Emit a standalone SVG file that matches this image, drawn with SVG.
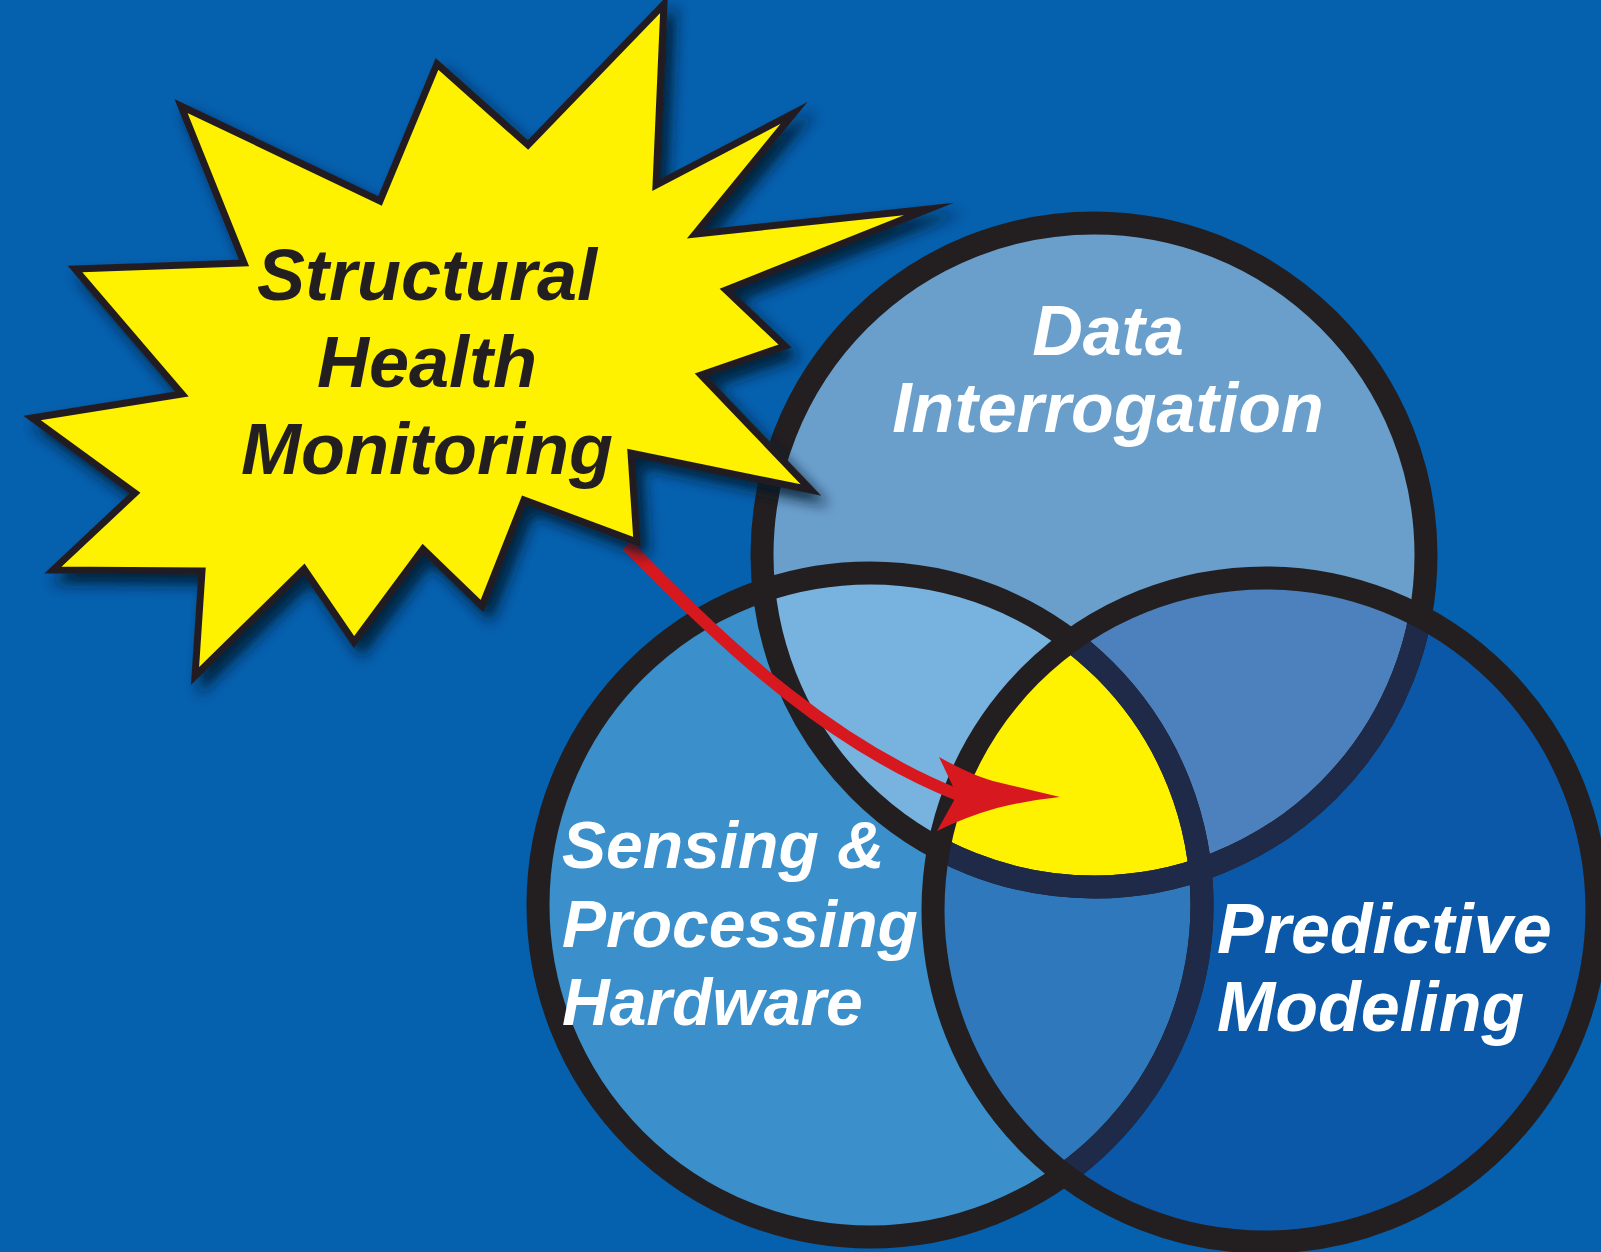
<svg xmlns="http://www.w3.org/2000/svg" width="1601" height="1252" viewBox="0 0 1601 1252">
<style>
.lbl{font-family:"Liberation Sans",Arial,sans-serif;font-weight:bold;font-style:italic;}
.white{fill:#ffffff;}
.dark{fill:#231f20;}
.ring{fill:none;stroke:#231f20;stroke-width:23;}
.ringN{fill:none;stroke:#1f2a48;stroke-width:23;}
</style>
<defs>
<clipPath id="cT"><circle cx="1094" cy="555" r="332"/></clipPath>
<clipPath id="cL"><circle cx="870" cy="905" r="332"/></clipPath>
<clipPath id="cR"><circle cx="1265" cy="910" r="332"/></clipPath>
<filter id="shadow" x="-20%" y="-20%" width="140%" height="140%">
<feDropShadow dx="8" dy="10" stdDeviation="7" flood-color="#00132b" flood-opacity="0.85"/>
</filter>
</defs>
<rect x="0" y="0" width="1601" height="1252" fill="#0560ae"/>

<g id="node-data">
<circle cx="1094" cy="555" r="332" fill="#6a9fcc"/>
</g>
<g id="node-sensing">
<circle cx="870" cy="905" r="332" fill="#3b8fca"/>
</g>
<g id="node-predictive">
<circle cx="1265" cy="910" r="332" fill="#0a58a7"/>
</g>
<g id="overlaps">
<circle cx="870" cy="905" r="332" fill="#77b3de" clip-path="url(#cT)"/>
<circle cx="1265" cy="910" r="332" fill="#4c81bd" clip-path="url(#cT)"/>
<circle cx="1265" cy="910" r="332" fill="#2f78bb" clip-path="url(#cL)"/>
<g clip-path="url(#cL)"><circle cx="1265" cy="910" r="332" fill="#fff200" clip-path="url(#cT)"/></g>
</g>
<g id="rings">
<circle class="ring" cx="1094" cy="555" r="332"/>
<circle class="ring" cx="870" cy="905" r="332"/>
<g clip-path="url(#cR)">
<circle class="ringN" cx="1094" cy="555" r="332"/>
<circle class="ringN" cx="870" cy="905" r="332"/>
</g>
<circle class="ring" cx="1265" cy="910" r="332"/>
</g>

<g id="connectors">
<path d="M627,545 C737,659 838,747 958,795" fill="none" stroke="#d7191f" stroke-width="12"/>
<path d="M939,757 Q975,777 997,782 Q1030,790 1060,797 Q1030,800 997,808 Q965,817 937,831 L957,795 Z" fill="#d7191f"/>
</g>

<g id="node-shm">
<polygon filter="url(#shadow)" fill="#fff200" stroke="#231f20" stroke-width="7" stroke-linejoin="miter" stroke-miterlimit="12"
points="664,4 656,185 794,113 695,234 929,209 726,290 785,346 701,375 811,490 631,453 637,542 524,500 482,606 423,549 354,642 304,569 195,676 202,571 53,570 135,493 32,418 182,394 75,269 244,263 181,106 380,201 437,64 528,145"/>
<text class="lbl dark" font-size="72" text-anchor="middle" x="427" y="300">Structural</text>
<text class="lbl dark" font-size="72" text-anchor="middle" x="427" y="387">Health</text>
<text class="lbl dark" font-size="72" text-anchor="middle" x="427" y="474">Monitoring</text>
</g>

<g id="labels">
<text class="lbl white" font-size="70" text-anchor="middle" x="1108" y="355">Data</text>
<text class="lbl white" font-size="70" text-anchor="middle" x="1108" y="432">Interrogation</text>
<text class="lbl white" font-size="66" x="562" y="868">Sensing &amp;</text>
<text class="lbl white" font-size="66" x="562" y="947">Processing</text>
<text class="lbl white" font-size="66" x="562" y="1025">Hardware</text>
<text class="lbl white" font-size="70" x="1217" y="953">Predictive</text>
<text class="lbl white" font-size="70" x="1217" y="1031">Modeling</text>
</g>
</svg>
